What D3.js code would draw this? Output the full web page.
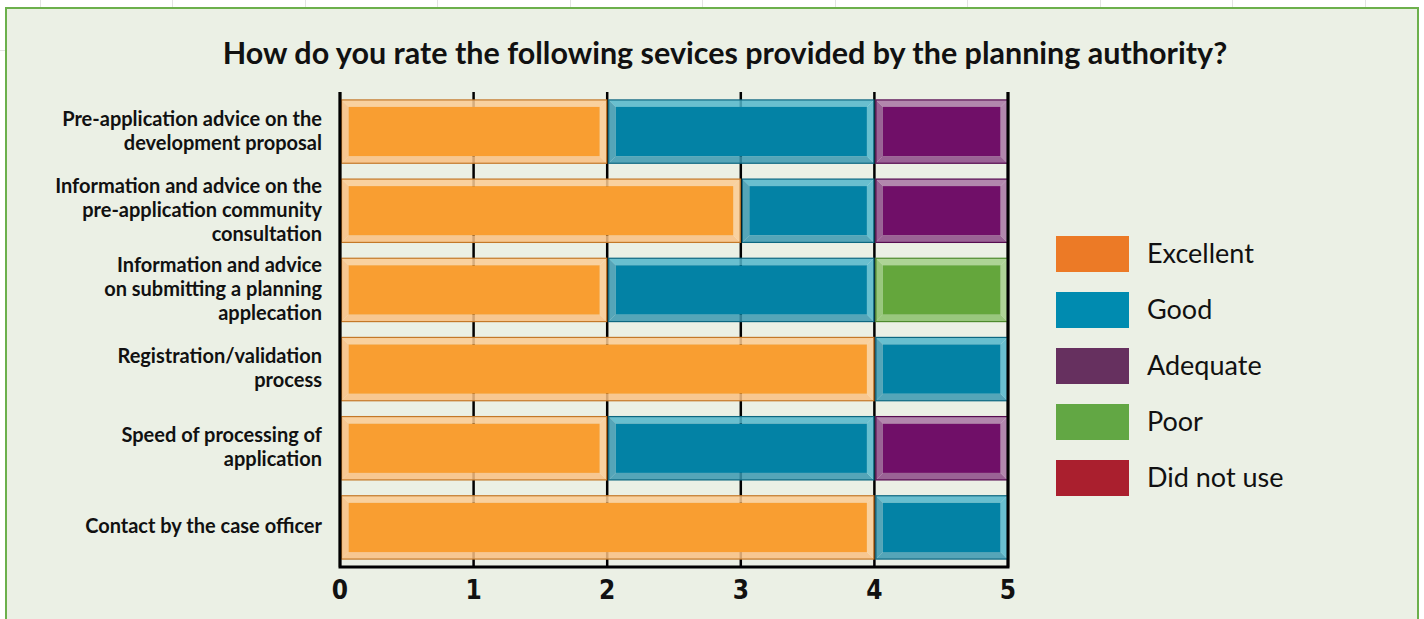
<!DOCTYPE html>
<html>
<head>
<meta charset="utf-8">
<script src="https://cdn.jsdelivr.net/npm/d3@7"></script>
<style>
  html, body { margin: 0; padding: 0; background: #fff; }
  svg { display: block; }
</style>
</head>
<body>
<svg id="chart" width="1424" height="619"></svg>
<script>
// chart data
const categories = [
  ["Pre-application advice on the", "development proposal"],
  ["Information and advice on the", "pre-application community", "consultation"],
  ["Information and advice", "on submitting a planning", "applecation"],
  ["Registration/validation", "process"],
  ["Speed of processing of", "application"],
  ["Contact by the case officer"]
]
const ratings = ["Excellent", "Good", "Adequate", "Poor", "Did not use"]
const excellent = [2, 3, 2, 4, 2, 4]
const good = [2, 1, 2, 1, 2, 1]
const adequate = [1, 1, 0, 0, 1, 0]
const poor = [0, 0, 1, 0, 0, 0]
const didNotUse = [0, 0, 0, 0, 0, 0]
const xTicks = [0, 1, 2, 3, 4, 5]

const title = "How do you rate the following sevices provided by the planning authority?"

// colours: legend swatch, bar fill, bevel light, bevel shade, outline
const legendColors = ["#ec7a26", "#008bb0", "#66305f", "#62a744", "#aa1f2e"]
const barStyle = {
  "Excellent":   { fill: "#f99e31", light: "#fbcb93", shade: "#f9c083", stroke: "#c47828" },
  "Good":        { fill: "#0382a5", light: "#52b6cb", shade: "#3b98b0", stroke: "#0c6780" },
  "Adequate":    { fill: "#700f68", light: "#a874a3", shade: "#8c4a87", stroke: "#560b50" },
  "Poor":        { fill: "#64a63c", light: "#a3cf88", shade: "#8bbf6c", stroke: "#4d8a2c" },
  "Did not use": { fill: "#aa1f2e", light: "#d07a84", shade: "#bd4c58", stroke: "#86141f" }
}

const svg = d3.select("#chart")

// faint spreadsheet lines behind the panel
const bg = svg.append("g").attr("stroke", "#e3e3e3").attr("stroke-width", 1)
;[40, 172, 305, 437, 570, 702, 835, 967, 1100, 1232, 1365].forEach(x => {
  bg.append("line").attr("x1", x + 0.5).attr("x2", x + 0.5).attr("y1", 0).attr("y2", 8)
})
bg.append("line").attr("x1", 0).attr("x2", 6).attr("y1", 50.5).attr("y2", 50.5)

// green panel
svg.append("rect")
  .attr("x", 6).attr("y", 8)
  .attr("width", 1412).attr("height", 640)
  .attr("fill", "#ebf0e5")
  .attr("stroke", "#6cb04c")
  .attr("stroke-width", 2)

svg.append("text")
  .attr("x", 725).attr("y", 64)
  .attr("text-anchor", "middle")
  .attr("font-family", "Lato, 'Open Sans', sans-serif")
  .attr("font-weight", "bold")
  .attr("font-size", 30.5)
  .attr("fill", "#111")
  .text(title)

const x = d3.scaleLinear().domain([0, 5]).range([340, 1008])
const y = d3.scaleBand()
  .domain(d3.range(categories.length))
  .range([92, 567])
  .paddingInner(0.2)
  .paddingOuter(0.1)

const table = categories.map((c, i) => ({
  "Excellent": excellent[i],
  "Good": good[i],
  "Adequate": adequate[i],
  "Poor": poor[i],
  "Did not use": didNotUse[i]
}))
const series = d3.stack().keys(ratings)(table)

// vertical grid lines
svg.append("g")
  .selectAll("line")
  .data(xTicks)
  .join("line")
    .attr("x1", d => x(d)).attr("x2", d => x(d))
    .attr("y1", 92).attr("y2", 567)
    .attr("stroke", "#000")
    .attr("stroke-width", 2.5)

// bars with bevel edges
const B = 7
const segs = []
series.forEach(s => {
  s.forEach((d, i) => {
    if (d[1] - d[0] > 0) segs.push({ key: s.key, i, x0: x(d[0]), x1: x(d[1]) })
  })
})

const seg = svg.append("g")
  .selectAll("g")
  .data(segs)
  .join("g")

seg.each(function(d) {
  const g = d3.select(this)
  const st = barStyle[d.key]
  const x0 = d.x0 + 1.5, x1 = d.x1 - 0.5
  const y0 = y(d.i), y1 = y(d.i) + y.bandwidth()
  const poly = pts => pts.map(p => p.join(",")).join(" ")
  g.append("polygon").attr("points", poly([[x0, y0], [x1, y0], [x1 - B, y0 + B], [x0 + B, y0 + B]]))
    .attr("fill", st.light).attr("fill-opacity", 0.85)
  g.append("polygon").attr("points", poly([[x0, y1], [x1, y1], [x1 - B, y1 - B], [x0 + B, y1 - B]]))
    .attr("fill", st.shade).attr("fill-opacity", 0.85)
  g.append("polygon").attr("points", poly([[x0, y0], [x0 + B, y0 + B], [x0 + B, y1 - B], [x0, y1]]))
    .attr("fill", st.shade).attr("fill-opacity", 0.85)
  g.append("polygon").attr("points", poly([[x1, y0], [x1 - B, y0 + B], [x1 - B, y1 - B], [x1, y1]]))
    .attr("fill", st.light).attr("fill-opacity", 0.85)
  g.append("rect")
    .attr("x", x0 + B).attr("y", y0 + B)
    .attr("width", x1 - x0 - 2 * B).attr("height", y1 - y0 - 2 * B)
    .attr("fill", st.fill)
  g.append("rect")
    .attr("x", x0).attr("y", y0)
    .attr("width", x1 - x0).attr("height", y1 - y0)
    .attr("fill", "none")
    .attr("stroke", st.stroke)
    .attr("stroke-width", 1.2)
})

// axis frame: left, bottom, right
svg.append("path")
  .attr("d", `M${x(0)},92V567H${x(5)}V92`)
  .attr("fill", "none")
  .attr("stroke", "#000")
  .attr("stroke-width", 3)

// tick labels
svg.append("g")
  .selectAll("text")
  .data(xTicks)
  .join("text")
    .attr("x", d => x(d))
    .attr("y", 599)
    .attr("text-anchor", "middle")
    .attr("font-family", "'DejaVu Sans Condensed', 'Liberation Sans Narrow', sans-serif")
    .attr("font-weight", "bold")
    .attr("font-size", 26)
    .attr("fill", "#111")
    .text(d => d)

// category labels
const lineH = 24
svg.append("g")
  .selectAll("text")
  .data(categories)
  .join("text")
    .attr("text-anchor", "end")
    .attr("font-family", "Lato, 'Open Sans', sans-serif")
    .attr("font-weight", "bold")
    .attr("font-size", 20)
    .attr("fill", "#111")
    .each(function(lines, i) {
      const cy = y(i) + y.bandwidth() / 2
      const top = cy - (lines.length - 1) * lineH / 2
      d3.select(this).selectAll("tspan")
        .data(lines)
        .join("tspan")
          .attr("x", 322)
          .attr("y", (d, k) => top + k * lineH + 6)
          .text(d => d)
    })

// legend
const legend = svg.append("g")
  .selectAll("g")
  .data(ratings)
  .join("g")
    .attr("transform", (d, i) => `translate(1056,${236 + i * 56})`)
legend.append("rect")
  .attr("width", 73).attr("height", 36)
  .attr("fill", (d, i) => legendColors[i])
legend.append("text")
  .attr("x", 91).attr("y", 27)
  .attr("font-family", "Lato, 'Open Sans', sans-serif")
  .attr("font-size", 27)
  .attr("fill", "#111")
  .text(d => d)
</script>
</body>
</html>
